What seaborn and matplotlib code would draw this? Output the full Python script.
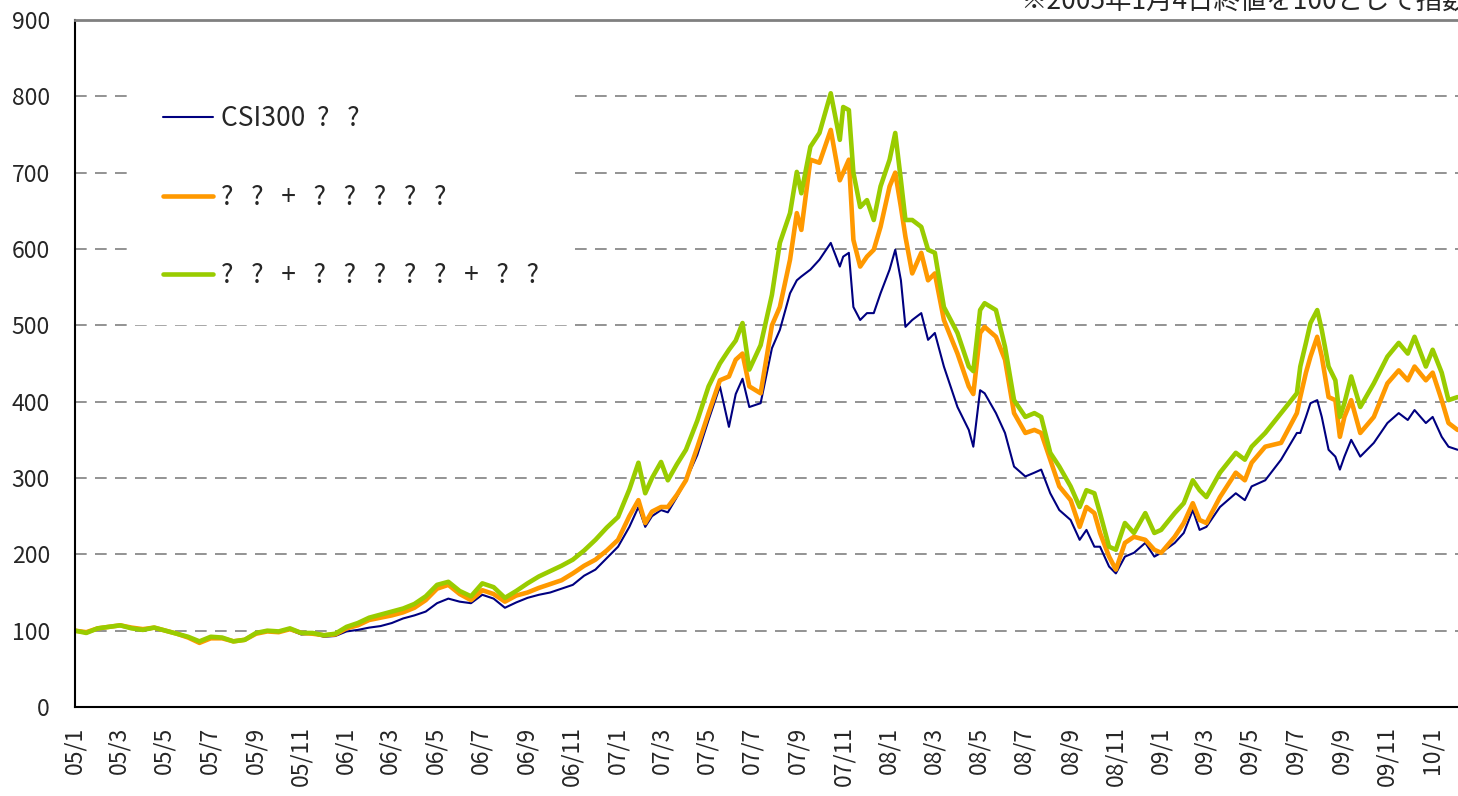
import numpy as np
import pandas as pd
import matplotlib
matplotlib.use('Agg')
import matplotlib.pyplot as plt
import seaborn as sns

# Index values (2005/1/4 = 100), months counted from 2005/1
months = [0, 0.5, 1, 1.5, 2, 2.5, 3, 3.5, 4, 4.5, 5, 5.5, 6, 6.5, 7, 7.5, 8, 8.5, 9, 9.5, 10, 10.5, 11, 11.5,
          12, 12.5, 13, 13.5, 14, 14.5, 15, 15.5, 16, 16.5, 17, 17.5, 18, 18.5, 19, 19.5, 20, 20.5, 21, 21.5, 22, 22.5, 23, 23.5,
          24, 24.5, 24.9, 25.2, 25.5, 25.9, 26.2, 26.6, 27, 27.5, 28, 28.5, 28.9, 29.2, 29.5, 29.8, 30.3, 30.8, 31.15, 31.6,
          31.9, 32.1, 32.5, 32.9, 33.4, 33.8, 33.95, 34.2, 34.4, 34.7, 35, 35.3, 35.6,
          36, 36.25, 36.5, 36.7, 37, 37.4, 37.7, 38, 38.4, 39, 39.5, 39.7, 40, 40.2, 40.7, 41.1, 41.5, 42, 42.4, 42.7,
          43.1, 43.5, 44, 44.4, 44.7, 45.05, 45.3, 45.7, 46, 46.4, 46.8, 47.3, 47.7,
          48, 48.6, 49, 49.4, 49.7, 50, 50.6, 51.3, 51.7, 52, 52.6, 53.3, 54, 54.15, 54.4, 54.6, 54.9, 55.1, 55.4, 55.7,
          55.9, 56.1, 56.4, 56.8, 57.4, 58, 58.5, 58.9, 59.2, 59.7,
          60, 60.4, 60.7, 61.1]

csi300 = [100, 97, 103, 105, 107, 103, 100, 103, 99, 96, 92, 86, 92, 90, 86, 88, 96, 99, 98, 101, 95, 96, 92, 93,
          99, 101, 104, 106, 110, 116, 120, 125, 136, 142, 138, 136, 147, 142, 130, 137, 143, 147, 150, 155, 160, 172, 180, 195,
          210, 236, 262, 236, 250, 258, 255, 275, 297, 330, 376, 420, 367, 410, 430, 393, 398, 470, 494, 542,
          559, 564, 573, 586, 608, 577, 590, 595, 524, 507, 516, 516, 542,
          573, 599, 559, 498, 507, 516, 481, 490, 446, 393, 363, 341, 415, 411, 385, 359, 315, 302, 307, 311,
          280, 258, 245, 219, 232, 210, 210, 184, 175, 197, 202, 215, 197,
          202, 215, 228, 258, 232, 236, 262, 280, 271, 289, 297, 324, 359, 359, 380, 398, 402, 380, 337, 328,
          311, 328, 350, 328, 346, 372, 385, 376, 389, 372,
          380, 354, 341, 337]

mix_a = [100, 98, 103, 105, 107, 104, 102, 104, 100, 96, 91, 84, 90, 90, 86, 88, 96, 99, 98, 102, 97, 96, 94, 95,
         103, 107, 114, 117, 120, 124, 130, 140, 155, 160, 148, 140, 153, 148, 138, 146, 150, 156, 161, 166, 175, 185, 193, 205,
         219, 250, 271, 241, 256, 262, 262, 278, 297, 340, 385, 428, 433, 455, 463, 420, 411, 500, 524, 586,
         647, 625, 717, 713, 756, 690, 700, 717, 612, 577, 590, 599, 629,
         682, 700, 655, 616, 568, 595, 559, 568, 507, 463, 420, 410, 490, 498, 485, 455, 385, 359, 363, 359,
         324, 289, 271, 236, 262, 254, 228, 197, 180, 215, 223, 219, 206,
         202, 223, 241, 267, 245, 241, 275, 307, 297, 320, 341, 346, 385, 406, 438, 459, 485, 459, 406, 402,
         354, 380, 402, 359, 380, 424, 441, 428, 446, 428,
         438, 402, 372, 363]

mix_b = [100, 97, 103, 105, 107, 103, 101, 104, 100, 96, 92, 86, 92, 91, 86, 88, 97, 100, 99, 103, 97, 97, 94, 96,
         105, 110, 117, 121, 125, 129, 135, 145, 160, 164, 152, 145, 162, 157, 143, 152, 162, 171, 178, 185, 193, 205, 219, 235,
         249, 285, 320, 280, 300, 321, 297, 318, 337, 375, 420, 450, 468, 480, 503, 442, 474, 540, 608, 647,
         701, 673, 734, 752, 804, 743, 786, 782, 700, 655, 664, 638, 682,
         717, 752, 690, 638, 638, 629, 599, 595, 524, 490, 446, 440, 520, 529, 520, 472, 402, 380, 385, 380,
         333, 315, 289, 262, 284, 280, 254, 210, 206, 241, 228, 254, 228,
         232, 254, 267, 297, 284, 275, 307, 333, 324, 341, 359, 385, 411, 446, 477, 503, 520, 494, 446, 428,
         380, 398, 433, 393, 424, 459, 477, 463, 485, 446,
         468, 438, 402, 406]

labels = ['CSI300  ?   ?', '?   ?   +   ?   ?   ?   ?   ?', '?   ?   +   ?   ?   ?   ?   ?   +   ?   ?']
colors = ['#000080', '#FF9900', '#99CC00']
note = '※2005年1月4日終値を100として指数化'

base = pd.Timestamp('2005-01-01')
df = pd.DataFrame({'date': base + pd.to_timedelta(np.array(months) * 30.4375, unit='D'),
                   'csi300': csi300, 'mix_a': mix_a, 'mix_b': mix_b})

sns.set_style('white')
plt.rcParams['font.family'] = ['Noto Sans CJK JP', 'DejaVu Sans']

fig = plt.figure(figsize=(14.58, 7.96), dpi=100)
ax = fig.add_axes([75 / 1458, 89 / 796, 1383 / 1458, 687 / 796])

sns.lineplot(data=df, x='date', y='csi300', color=colors[0], linewidth=1.5, label=labels[0], ax=ax)
sns.lineplot(data=df, x='date', y='mix_a', color=colors[1], linewidth=3.3, label=labels[1], ax=ax)
sns.lineplot(data=df, x='date', y='mix_b', color=colors[2], linewidth=3.3, label=labels[2], ax=ax)

ax.set_xlim(base, base + pd.Timedelta(days=61.12 * 30.4375))
ax.set_ylim(0, 900)
ax.set_yticks(range(0, 1000, 100))
ticks = [pd.Timestamp(year=2005 + i // 6, month=(i % 6) * 2 + 1, day=1) for i in range(31)]
ax.set_xticks(ticks)
ax.set_xticklabels([f'{t.year % 100:02d}/{t.month}' for t in ticks], rotation=90)
ax.set_xlabel('')
ax.set_ylabel('')
ax.tick_params(axis='x', direction='in', length=7, width=1.2, pad=14, labelsize=16.5)
ax.tick_params(axis='y', length=0, pad=18, labelsize=16.5)

ax.yaxis.grid(True, color='#808080', linestyle=(0, (7, 5)), linewidth=1.2)
ax.xaxis.grid(False)
for s in ['left', 'bottom']:
    ax.spines[s].set_color('black')
    ax.spines[s].set_linewidth(1.5)
ax.spines['top'].set_color('#808080')
ax.spines['top'].set_linewidth(2)
ax.spines['right'].set_visible(False)

leg = ax.legend(loc='upper left', bbox_to_anchor=(0.029, 0.5, 0.338, 0.445), mode='expand',
                frameon=True, facecolor='white', edgecolor='white', framealpha=1, fancybox=False,
                fontsize=19, handlelength=1.9, handletextpad=0.3, labelspacing=1.95, borderpad=1.3)

fig.text(1020 / 1458, 1 - 9 / 796, note, fontsize=19, ha='left', va='baseline')

fig.savefig('out.png', dpi=100)
